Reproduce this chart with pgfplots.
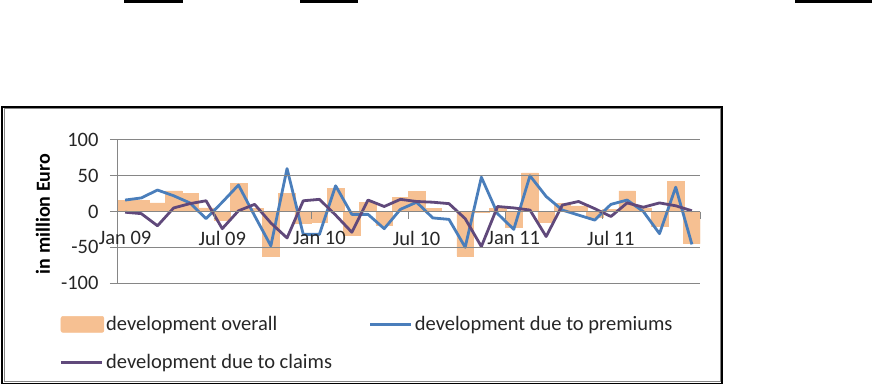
\documentclass[border=0pt]{standalone}
\usepackage{pgfplots}
\pgfplotsset{compat=1.18}
\usepackage{pgfplotstable}
\usepackage{fontspec}
\setmainfont{Carlito}
\definecolor{ovr}{RGB}{246,192,146}
\definecolor{prem}{RGB}{74,126,187}
\definecolor{clm}{RGB}{96,73,123}
\definecolor{grd}{RGB}{134,134,134}

\pgfplotstableread{
m ovr prem clm
0 16 16 -1
1 16 19 -3
2 12 30 -20
3 29 22 5
4 25 12 11
5 5 -10 15
6 -12 13 -24
7 39 37 1
8 4 -6 10
9 -63 -48 -16
10 25 60 -37
11 -17 -32 15
12 -15 -32 17
13 32 36 -5
14 -33 -4 -29
15 13 -4 16
16 -19 -24 7
17 20 3 17
18 28 13 14
19 4 -9 13
20 0 -11 11
21 -62 -50 -10
22 -1 48 -49
23 4 -3 7
24 -22 -25 5
25 54 50 2
26 -15 21 -35
27 11 2 9
28 8 -5 14
29 -8 -12 4
30 3 10 -7
31 29 16 12
32 5 0 6
33 -20 -31 12
34 42 34 8
35 -45 -46 1
}\data

\begin{document}
\begin{tikzpicture}[x=1pt,y=1pt]
\useasboundingbox (0,0) rectangle (872,388);
\draw[line width=2.5pt] (124,386.5) -- (183,386.5);
\draw[line width=2.5pt] (300,386.5) -- (358,386.5);
\draw[line width=2.5pt] (795,386.5) -- (872,386.5);
\draw[line width=1.4pt, black] (2,4.5) rectangle (722,281);
\draw[line width=0.6pt, grd] (3.8,6.3) rectangle (720.2,279.2);
\begin{axis}[
  at={(117pt,105pt)}, anchor=south west,
  scale only axis, width=583pt, height=143pt,
  xmin=-0.5, xmax=35.5, ymin=-100, ymax=100,
  axis x line*=middle, axis y line*=left,
  axis line style={grd, line width=1pt},
  axis on top,
  ymajorgrids, grid style={grd, line width=1pt},
  xtick={0,6,12,18,24,30},
  xticklabels={Jan 09, Jul 09, Jan 10, Jul 10, Jan 11, Jul 11},
  minor xtick={-0.5,5.5,11.5,17.5,23.5,29.5,35.5},
  major x tick style={draw=none},
  minor x tick style={grd, line width=1pt},
  ytick={-100,-50,0,50,100},
  yticklabels={-100,-50,0,50,100},
  y tick style={grd, line width=1pt},
  tick align=outside,
  major tick length=7pt, minor tick length=7pt,
  xticklabel style={font=\fontsize{20.5}{24}\selectfont, yshift=-9pt, text=black!85},
  yticklabel style={font=\fontsize{20.5}{24}\selectfont, xshift=-8pt, text=black!85},
  ylabel={in million Euro},
  every axis y label/.style={at={(axis description cs:-0.127,0.483)}, rotate=90, anchor=center, font=\bfseries\fontsize{20}{24}\selectfont},
  legend style={at={(axis description cs:-0.104,-0.205)}, anchor=north west, draw=none, fill=none,
    font=\fontsize{20.5}{24}\selectfont, text=black!85, row sep=18pt,
    /tikz/every even column/.append style={column sep=35pt}},
  legend columns=2, legend cell align=left,
]
\addplot[ybar, bar width=16.6pt, bar shift=0pt, fill=ovr, draw=ovr, line width=0.5pt,
  legend image code/.code={\fill[ovr, rounded corners=2pt] (0pt,-8pt) rectangle (43pt,8pt);}]
  table[x=m, y=ovr]{\data};
\addlegendentry{development overall}
\addplot[prem, line width=2.8pt, no marks, line join=round,
  legend image code/.code={\draw[prem, line width=2.8pt] (0pt,0pt) -- (41pt,0pt);}]
  table[x=m, y=prem]{\data};
\addlegendentry{development due to premiums}
\addplot[clm, line width=2.8pt, no marks, line join=round,
  legend image code/.code={\draw[clm, line width=2.8pt] (0pt,0pt) -- (41pt,0pt);}]
  table[x=m, y=clm]{\data};
\addlegendentry{development due to claims}
\end{axis}
\end{tikzpicture}
\end{document}
